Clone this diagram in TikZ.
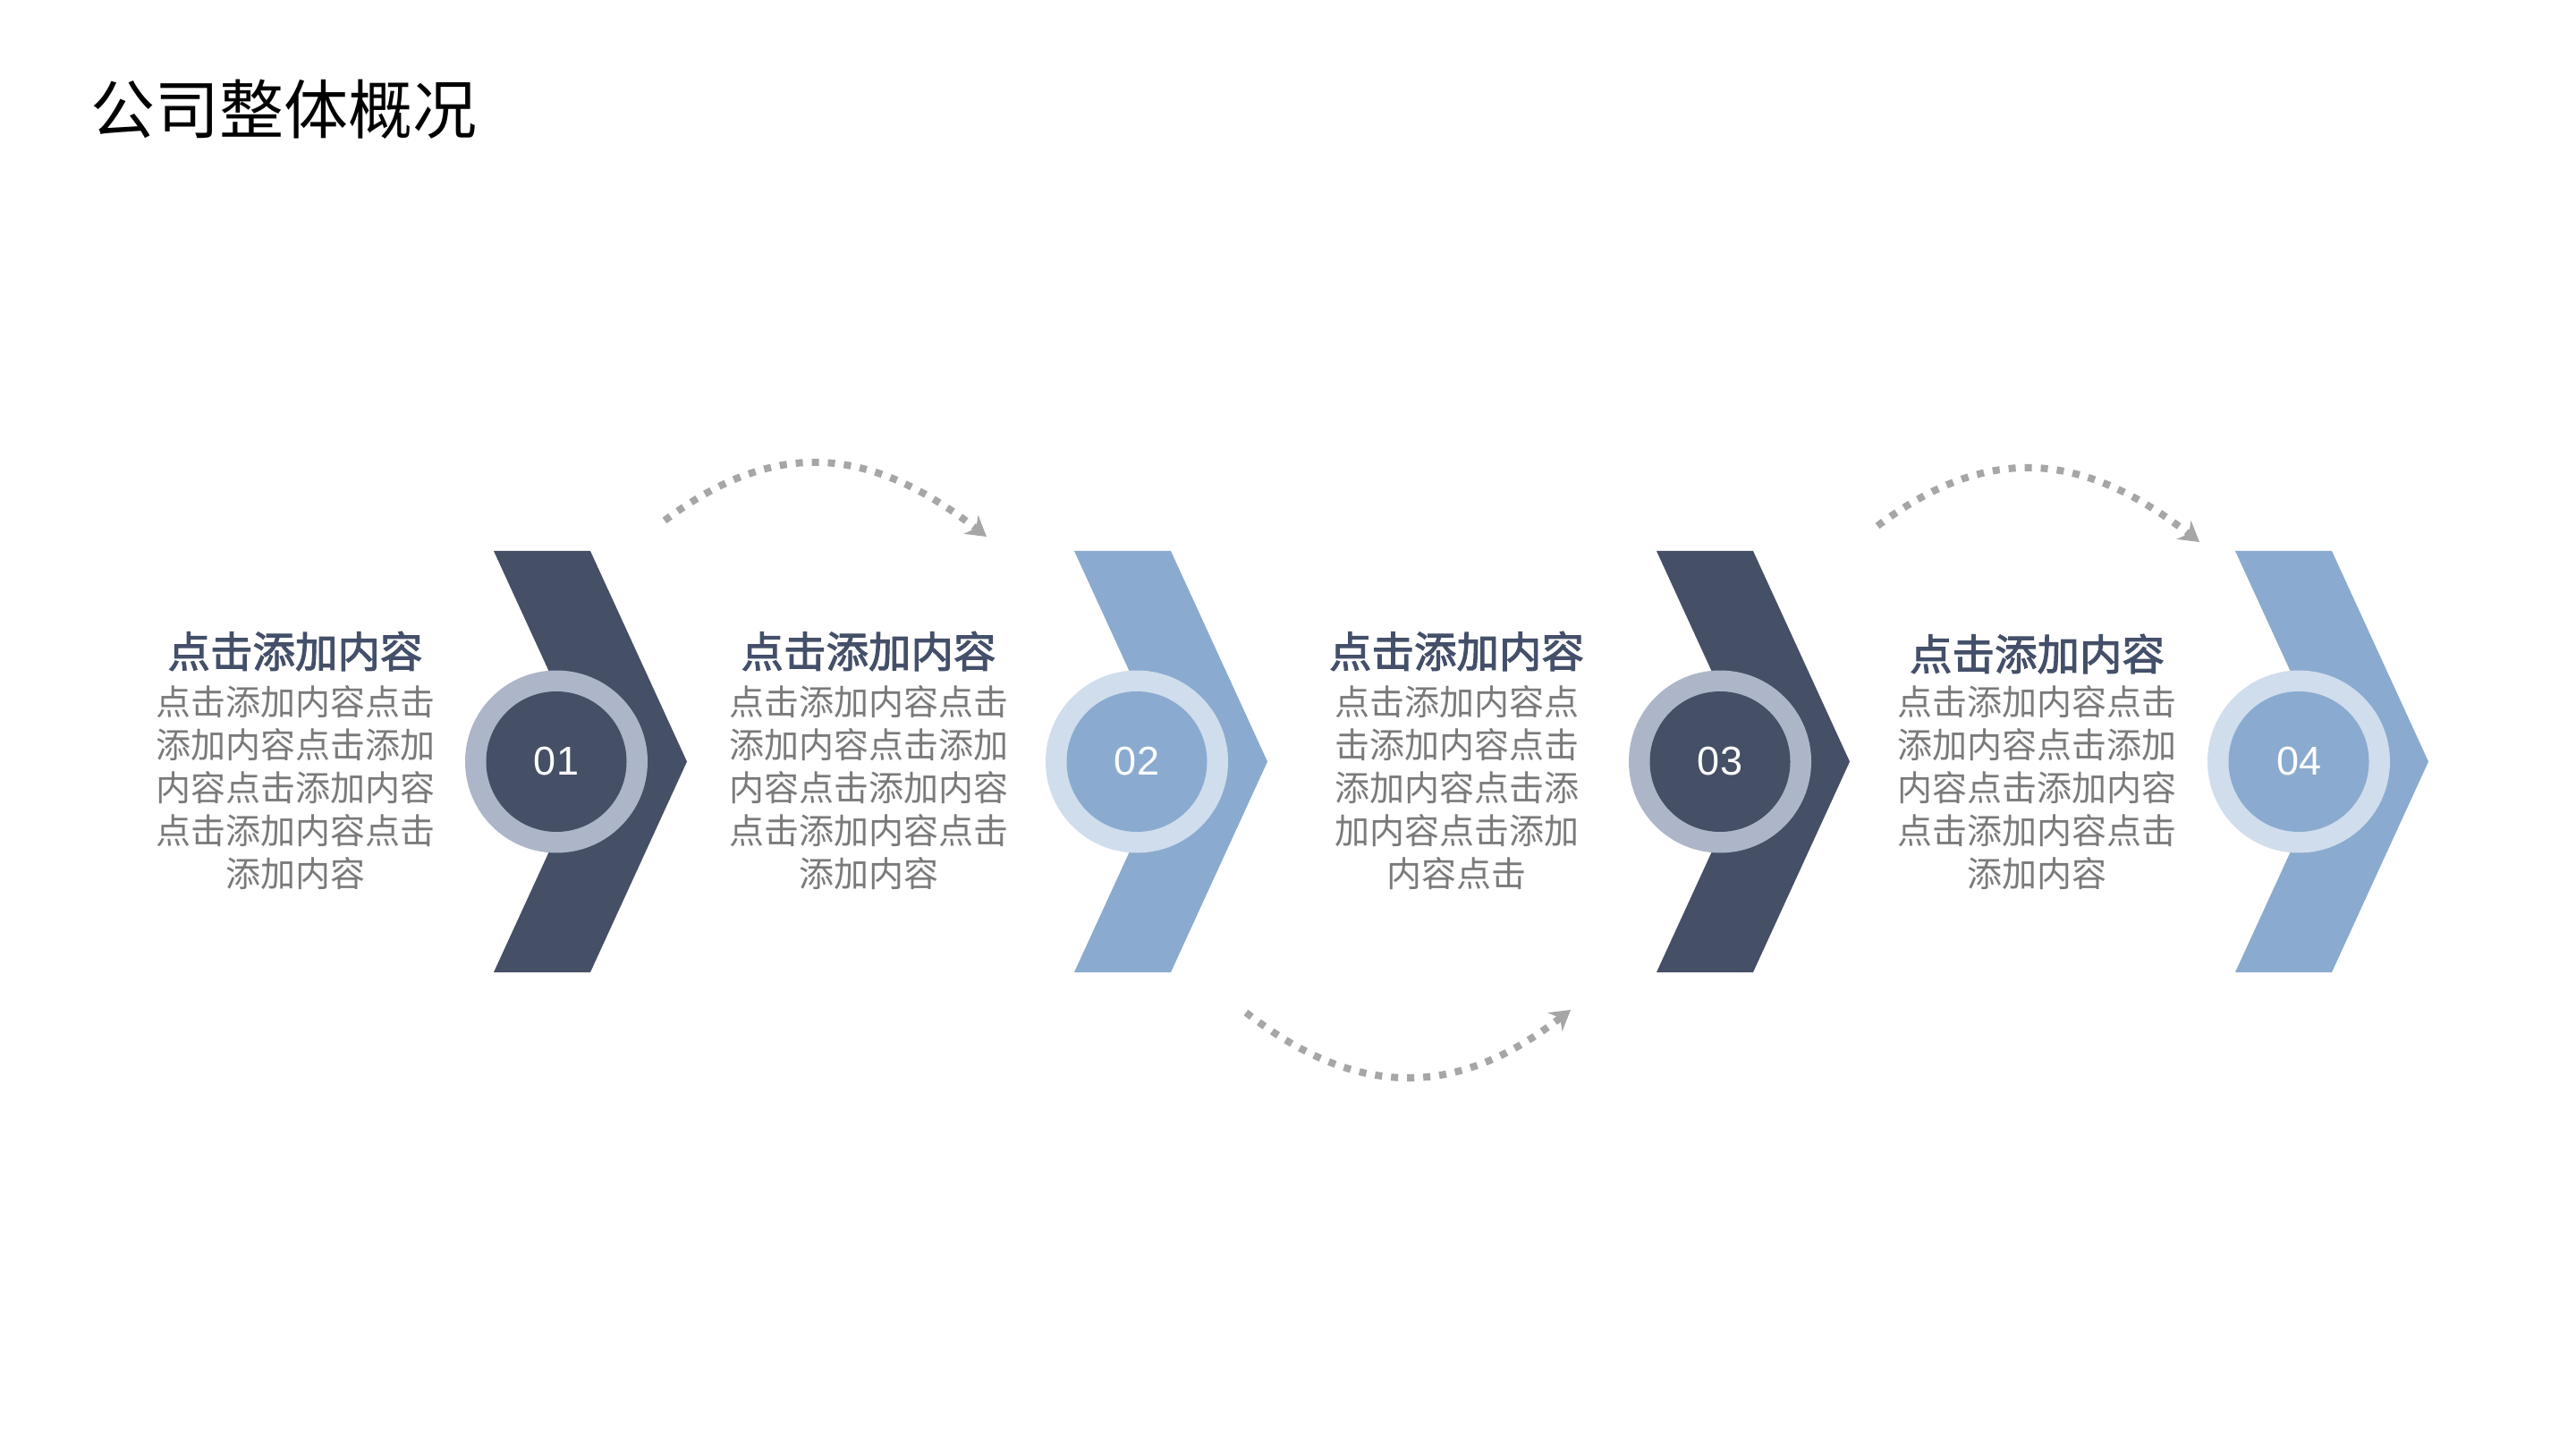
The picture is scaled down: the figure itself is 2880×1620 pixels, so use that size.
\documentclass[tikz,border=0pt]{standalone}
\usepackage{fontspec}
\newfontfamily\cjk{Noto Sans CJK SC}
\newfontfamily\cjkhead[FakeBold=2.2]{Noto Sans CJK SC}
\newfontfamily\numfont{Liberation Sans}
\usetikzlibrary{arrows.meta}
\definecolor{darkc}{HTML}{455067}
\definecolor{lightc}{HTML}{8AABCF}
\definecolor{darkring}{HTML}{ADB6C8}
\definecolor{lightring}{HTML}{D0DDED}
\definecolor{headc}{HTML}{44506A}
\definecolor{bodyc}{HTML}{7A7A7A}
\definecolor{arrowc}{HTML}{A6A6A6}
\begin{document}
\begin{tikzpicture}[x=0.5pt,y=-0.5pt,
  titletext/.style={font=\cjk\fontsize{36pt}{40pt}\selectfont, text=black, inner sep=0pt, anchor=west},
  headtext/.style={font=\cjkhead\fontsize{23.75pt}{28pt}\selectfont, text=headc, inner sep=0pt},
  bodytext/.style={font=\cjk\fontsize{19.5pt}{24pt}\selectfont, text=bodyc, inner sep=0pt, align=center},
  ringnode/.style={circle, inner sep=0pt, minimum size=102pt},
  corenode/.style={circle, inner sep=0pt, minimum size=78.5pt, font=\numfont\fontsize{22.5pt}{26pt}\selectfont, text=white},
  flowarrow/.style={draw=arrowc, line width=4pt, dash pattern=on 4pt off 5pt, line cap=butt,
    -{Stealth[length=11pt,width=13pt,inset=3.5pt]}}
]
\useasboundingbox (0,0) rectangle (2880,1620);
\fill[white] (0,0) rectangle (2880,1620);

% title
\node[titletext] (title) at (101,122) {公司整体概况};

% chevrons and circles
\foreach \L/\col/\ring/\num/\cx in {552/darkc/darkring/01/622, 1201/lightc/lightring/02/1271, 1852/darkc/darkring/03/1923, 2499/lightc/lightring/04/2570}{
  \fill[\col] (\L,616) -- (\L+108,616) -- (\L+216,851.5) -- (\L+108,1087) -- (\L,1087) -- (\L+108,851.5) -- cycle;
  \node[ringnode, fill=\ring] (ring\num) at (\cx,851.5) {};
  \node[corenode, fill=\col] (core\num) at (\cx,851.5) {\num};
}

% text blocks
\node[headtext] (h1) at (330,728) {点击添加内容};
\node[bodytext] (b1) at (330,881) {点击添加内容点击\\添加内容点击添加\\内容点击添加内容\\点击添加内容点击\\添加内容};

\node[headtext] (h2) at (971,728) {点击添加内容};
\node[bodytext] (b2) at (971,881) {点击添加内容点击\\添加内容点击添加\\内容点击添加内容\\点击添加内容点击\\添加内容};

\node[headtext] (h3) at (1628.5,728) {点击添加内容};
\node[bodytext] (b3) at (1628.5,881) {点击添加内容点\\击添加内容点击\\添加内容点击添\\加内容点击添加\\内容点击};

\node[headtext] (h4) at (2277.5,731) {点击添加内容};
\node[bodytext] (b4) at (2277.5,881) {点击添加内容点击\\添加内容点击添加\\内容点击添加内容\\点击添加内容点击\\添加内容};

% dotted arrows
\coordinate (a1s) at (743,582);
\coordinate (a1e) at (1103,600);
\coordinate (a2s) at (1393,1132);
\coordinate (a2e) at (1756,1129);
\coordinate (a3s) at (2099,588);
\coordinate (a3e) at (2459,606);
\draw[flowarrow] (a1s) .. controls (871,486) and (977,502) .. (a1e);
\draw[flowarrow] (a2s) .. controls (1519,1230) and (1630,1227) .. (a2e);
\draw[flowarrow] (a3s) .. controls (2227,492) and (2333,508) .. (a3e);
\end{tikzpicture}
\end{document}
